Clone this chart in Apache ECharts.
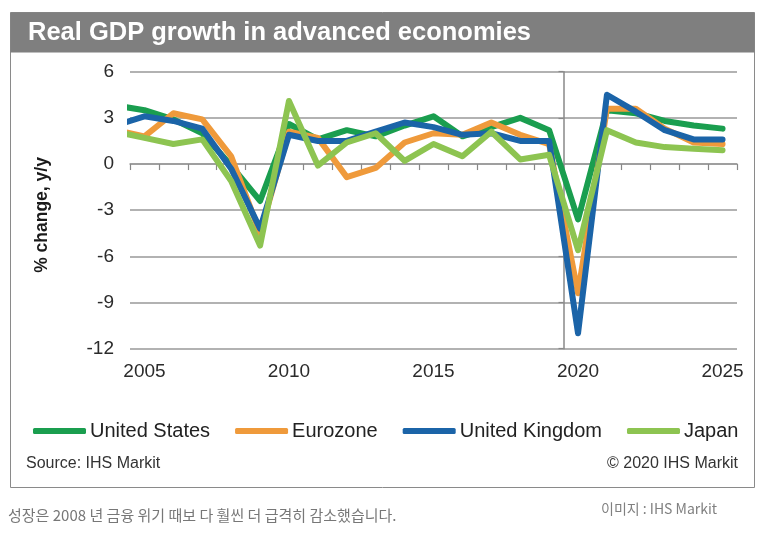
<!DOCTYPE html>
<html><head><meta charset="utf-8">
<script src="https://cdn.jsdelivr.net/npm/echarts@6/dist/echarts.min.js"></script>
<style>html,body{margin:0;padding:0;background:#fff}#c{width:762px;height:533px}</style>
</head><body><div id="c"></div>
<script>
// Years (2004 point only shows as the clipped stub at the left edge)
const years = [2004,2005,2006,2007,2008,2009,2010,2011,2012,2013,2014,2015,2016,2017,2018,2019,2020,2021,2022,2023,2024,2025];
const axisYears = ['2005','2006','2007','2008','2009','2010','2011','2012','2013','2014','2015','2016','2017','2018','2019','2020','2021','2022','2023','2024','2025'];
const unitedStates  = [3.8, 3.5, 2.9, 2.0, -0.1, -2.4, 2.6, 1.6, 2.2, 1.8, 2.5, 3.1, 1.8, 2.4, 3.0, 2.2, -3.6, 3.5, 3.3, 2.8, 2.5, 2.3];
const eurozone      = [2.2, 1.8, 3.3, 2.9, 0.5, -4.5, 2.1, 1.7, -0.85, -0.25, 1.4, 2.0, 1.9, 2.7, 1.9, 1.3, -8.4, 3.6, 3.6, 2.3, 1.4, 1.3];
const unitedKingdom = [2.5, 3.1, 2.8, 2.3, -0.3, -4.2, 1.9, 1.5, 1.5, 2.1, 2.7, 2.4, 1.9, 2.0, 1.5, 1.5, -11.0, 4.5, 3.4, 2.2, 1.6, 1.6];
const japan         = [2.1, 1.7, 1.3, 1.6, -1.1, -5.3, 4.1, -0.1, 1.4, 2.0, 0.2, 1.3, 0.5, 2.1, 0.3, 0.6, -5.6, 2.2, 1.4, 1.1, 1.0, 0.9];
const seriesNames = ['United States','Eurozone','United Kingdom','Japan'];
const seriesColors = ['#1a9e4f','#ef9a3b','#1b64a8','#8dc451'];
const seriesValues = [unitedStates, eurozone, unitedKingdom, japan];
const yTicks = {min: -12, max: 6, step: 3};

const chart = echarts.init(document.getElementById('c'), null, {renderer: 'canvas'});
const FONT = 'Liberation Sans, Arial, sans-serif';
const gridColor = '#999999';

const series = seriesNames.map((name, i) => ({
  name: name,
  type: 'line',
  xAxisIndex: 0,
  yAxisIndex: 0,
  symbol: 'none',
  clip: true,
  color: seriesColors[i],
  lineStyle: {width: 6, color: seriesColors[i], cap: 'round', join: 'round'},
  data: years.map((y, k) => [y, seriesValues[i][k]])
}));

chart.setOption({
  animation: false,
  backgroundColor: '#fff',
  textStyle: {fontFamily: FONT},
  grid: {left: 130, top: 71.7, width: 607, height: 277, containLabel: false},
  xAxis: [
    {type: 'value', min: 2004.5, max: 2025.5, show: false, position: 'bottom'},
    {type: 'category', data: axisYears, boundaryGap: true, position: 'bottom',
     axisLine: {show: true, onZero: true, lineStyle: {color: gridColor, width: 1.5}},
     axisTick: {show: true, length: 6, interval: 0, lineStyle: {color: '#888', width: 1.2}},
     axisLabel: {show: false}, splitLine: {show: false}},
    {type: 'category', data: axisYears, boundaryGap: true, position: 'bottom',
     axisLine: {show: false, onZero: false}, axisTick: {show: false}, splitLine: {show: false},
     axisLabel: {show: true, margin: 14, fontSize: 19, color: '#2b2b2b', fontFamily: FONT,
       interval: function (idx, val) { return (+val) % 5 === 0; }}}
  ],
  yAxis: [
    {type: 'value', min: yTicks.min, max: yTicks.max, interval: yTicks.step, position: 'left',
     axisLine: {show: false}, axisTick: {show: false},
     axisLabel: {margin: 16, fontSize: 19, color: '#2b2b2b', fontFamily: FONT},
     splitLine: {show: true, lineStyle: {color: gridColor, width: 1.5}}},
    {type: 'value', min: yTicks.min, max: yTicks.max, interval: yTicks.step, position: 'left', offset: -433.5,
     axisLine: {show: true, onZero: false, lineStyle: {color: '#888', width: 1.5}},
     axisTick: {show: true, length: 5, lineStyle: {color: '#888', width: 1.2}},
     axisLabel: {show: false}, splitLine: {show: false}}
  ],
  legend: {
    data: seriesNames, left: 33, top: 421, itemGap: 25, itemWidth: 53, itemHeight: 6,
    icon: 'roundRect', padding: 0,
    textStyle: {fontSize: 20, color: '#222', fontFamily: FONT, padding: [0,0,0,-1]}
  },
  graphic: [
    {type: 'rect', z: -1, shape: {x: 10.5, y: 12.5, width: 744, height: 475}, style: {fill: '#fff', stroke: '#8a8a8a', lineWidth: 1}},
    {type: 'rect', z: 0, shape: {x: 10.5, y: 12.5, width: 744, height: 40}, style: {fill: '#7f7f7f'}},
    {type: 'text', z: 1, left: 28, top: 20, style: {text: 'Real GDP growth in advanced economies', fill: '#fff', font: 'bold 25.5px ' + FONT}},
    {type: 'text', z: 1, x: 42, y: 215, rotation: Math.PI / 2, style: {text: '% change, y/y', fill: '#1a1a1a', font: 'bold 17.5px ' + FONT, textAlign: 'center', textVerticalAlign: 'middle'}},
    {type: 'text', z: 1, left: 26, top: 456, style: {text: 'Source: IHS Markit', fill: '#333', font: '16px ' + FONT}},
    {type: 'text', z: 1, right: 24, top: 456, style: {text: '\u00a9 2020 IHS Markit', fill: '#333', font: '16px ' + FONT, textAlign: 'right'}},
    {type: 'text', z: 1, left: 8, top: 508, style: {text: '성장은 2008 년 금융 위기 때보 다 훨씬 더 급격히 감소했습니다.', fill: '#777', font: '15px "Noto Sans CJK KR", sans-serif'}},
    {type: 'text', z: 1, left: 601, top: 502, style: {text: '이미지 : IHS Markit', fill: '#808080', font: '14px "Noto Sans CJK KR", sans-serif'}}
  ],
  series: series
});
</script></body></html>
